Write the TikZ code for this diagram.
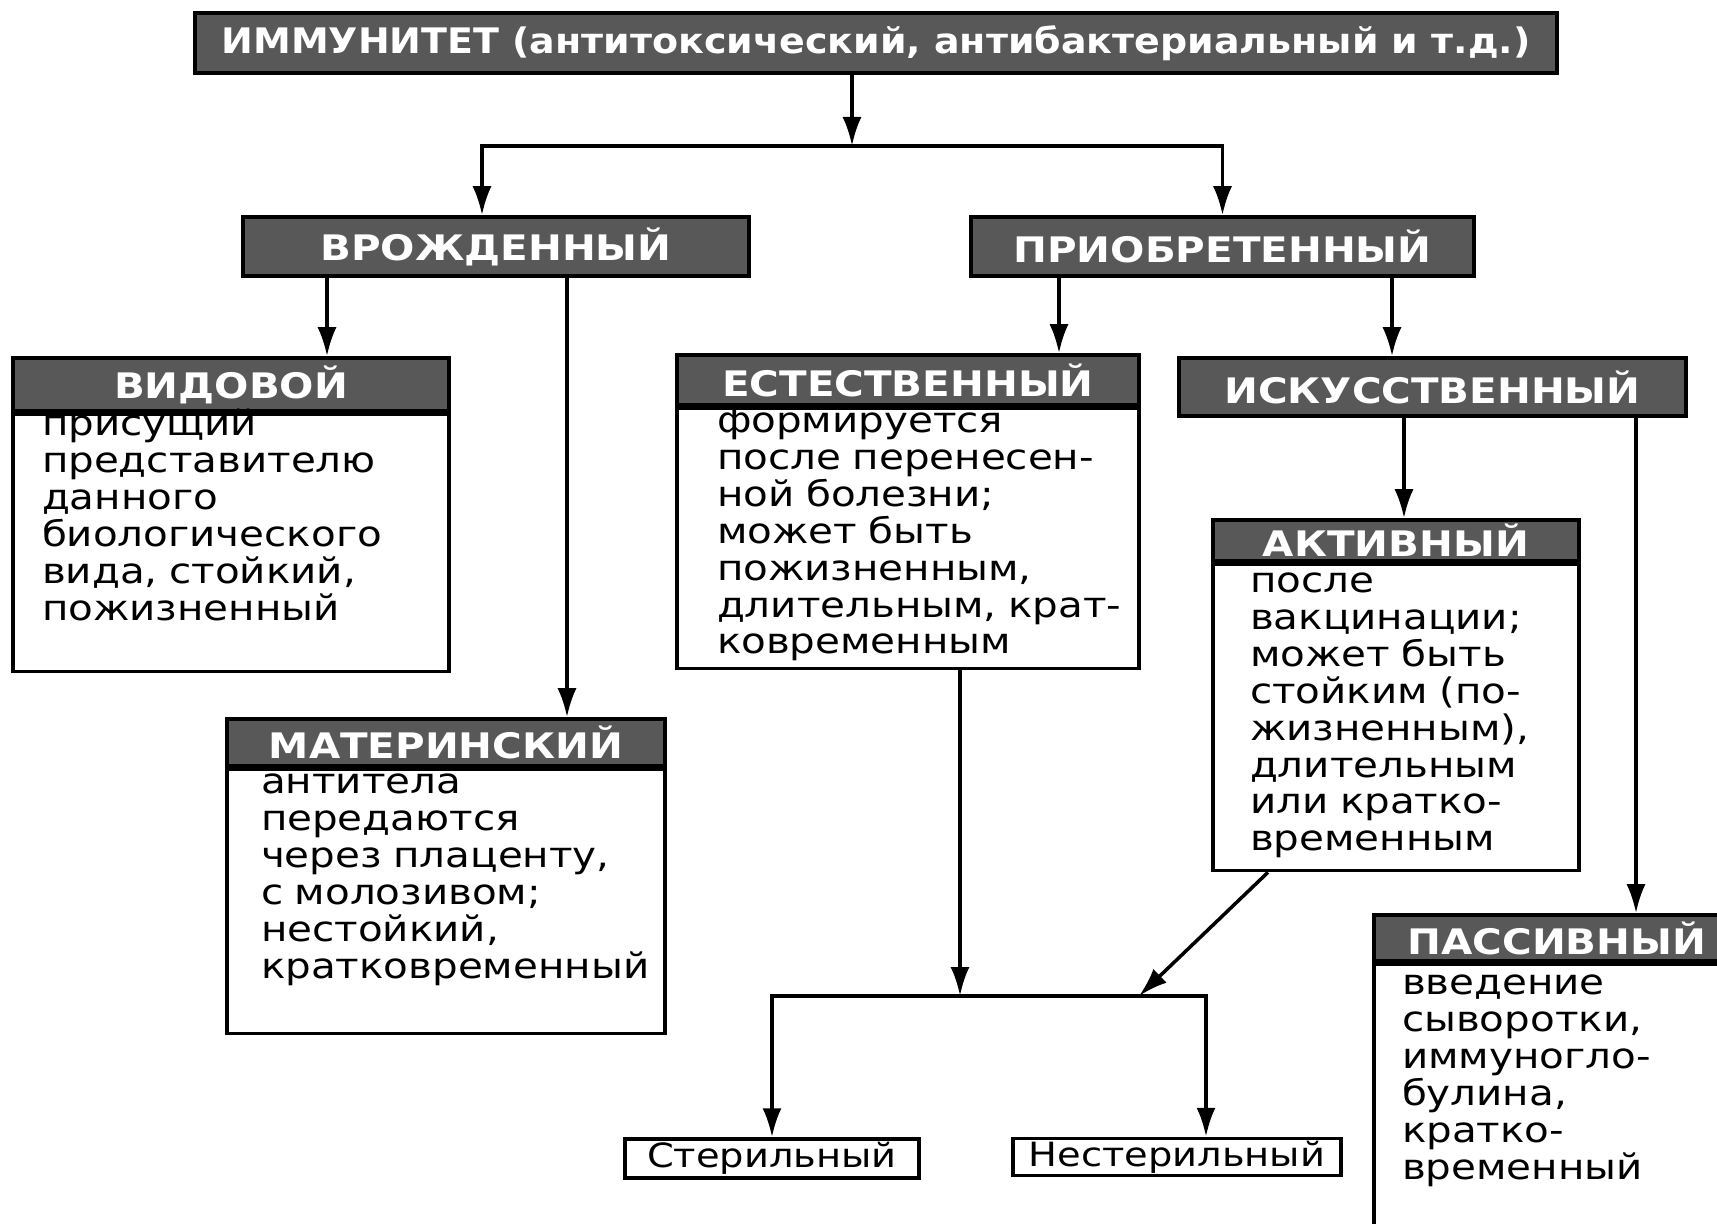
\documentclass[tikz,border=0pt]{standalone}
\usepackage{fontspec}
\setmainfont{DejaVu Sans}
\newfontfamily\widefont{DejaVu Sans}[FakeStretch=1.15]
\newfontfamily\titlefont{DejaVu Sans}[FakeStretch=1.08]
\usetikzlibrary{positioning}
\usetikzlibrary{arrows.meta}

\definecolor{headgray}{RGB}{88,88,88}

\tikzset{
  arr/.style={-{Latex[length=2.9mm,width=1.9mm]},line width=1pt},
  topbox/.style={draw,line width=1pt,fill=headgray,text=white,inner sep=0pt,font=\titlefont\bfseries\fontsize{10}{12}\selectfont},
  headbox/.style={draw,line width=1pt,fill=headgray,text=white,inner sep=0pt,font=\widefont\bfseries\fontsize{10}{12}\selectfont},
  bodybox/.style={draw,line width=1pt,align=left,inner ysep=0pt,font=\widefont\fontsize{10}{10.5}\selectfont},
  resbox/.style={draw,line width=1pt,inner sep=0pt,font=\widefont\fontsize{9.5}{11}\selectfont}
}

\begin{document}
\begin{tikzpicture}
        \useasboundingbox (0,0) rectangle (17.17,-12.24);
        \clip (0,0) rectangle (17.17,-12.24);

        % Top levels
        \node[topbox,minimum width=13.62cm,minimum height=0.60cm] (immun) at (8.76,-0.43) {ИММУНИТЕТ (антитоксический, антибактериальный и т.д.)};
        \node[headbox,minimum width=5.06cm,minimum height=0.59cm] (vrozh) at (4.96,-2.465) {ВРОЖДЕННЫЙ};
        \node[headbox,minimum width=5.03cm,minimum height=0.59cm] (priob) at (12.225,-2.465) {ПРИОБРЕТЕННЫЙ};

        % Innate
        \node[headbox,minimum width=4.36cm,minimum height=0.53cm] (vidhead) at (2.31,-3.845) {ВИДОВОЙ};
        \node[bodybox,below=0pt of vidhead,inner xsep=0.29cm,text width=3.78cm,text height=0.21cm,text depth=2.36cm] (vidbody) {присущий\\представителю\\данного\\биологического\\вида, стойкий,\\пожизненный};

        \node[headbox,minimum width=4.38cm,minimum height=0.47cm] (mathead) at (4.46,-7.425) {МАТЕРИНСКИЙ};
        \node[bodybox,below=0pt of mathead,inner xsep=0.34cm,text width=3.70cm,text height=0.24cm,text depth=2.40cm] (matbody) {антитела\\передаются\\через плаценту,\\с молозивом;\\нестойкий,\\кратковременный};

        % Acquired
        \node[headbox,minimum width=4.62cm,minimum height=0.50cm] (esthead) at (9.08,-3.80) {ЕСТЕСТВЕННЫЙ};
        \node[bodybox,below=0pt of esthead,inner xsep=0.40cm,text width=3.82cm,text height=0.24cm,text depth=2.36cm] (estbody) {формируется\\после перенесен-\\ной болезни;\\может быть\\пожизненным,\\\mbox{длительным, крат-}\\ковременным};

        \node[headbox,minimum width=5.07cm,minimum height=0.58cm] (iskus) at (14.325,-3.87) {ИСКУССТВЕННЫЙ};

        \node[headbox,minimum width=3.66cm,minimum height=0.41cm] (akthead) at (13.96,-5.405) {АКТИВНЫЙ};
        \node[bodybox,below=0pt of akthead,inner xsep=0.37cm,text width=2.92cm,text height=0.28cm,text depth=2.78cm] (aktbody) {после\\вакцинации;\\может быть\\стойким (по-\\жизненным),\\длительным\\или кратко-\\временным};

        \node[headbox,minimum width=3.66cm,minimum height=0.46cm] (pashead) at (15.57,-9.38) {ПАССИВНЫЙ};
        \node[bodybox,below=0pt of pashead,inner xsep=0.28cm,text width=3.10cm,text height=0.30cm,text depth=3.09cm] (pasbody) {введение\\сыворотки,\\иммуногло-\\булина,\\кратко-\\временный};

        % Results
        \node[resbox,minimum width=2.94cm,minimum height=0.39cm] (steril) at (7.72,-11.585) {Стерильный};
        \node[resbox,minimum width=3.28cm,minimum height=0.37cm] (nester) at (11.77,-11.57) {Нестерильный};

        % Arrows
        \coordinate (j1) at (8.52,-1.46);
        \draw[arr] (immun.south -| j1) -- (j1);
        \draw[arr] (j1) -| ([xshift=-0.14cm]vrozh.north);
        \draw[arr] (j1) -| (priob.north);

        \coordinate (vl) at ([xshift=-1.69cm]vrozh.south);
        \coordinate (ml) at ([xshift=0.71cm]vrozh.south);
        \draw[arr] (vl) -- (vl |- vidhead.north);
        \draw[arr] (ml) -- (ml |- mathead.north);

        \coordinate (el) at ([xshift=-1.635cm]priob.south);
        \coordinate (il) at ([xshift=1.695cm]priob.south);
        \draw[arr] (el) -- (el |- esthead.north);
        \draw[arr] (il) -- (il |- iskus.north);

        \coordinate (al) at ([xshift=-0.285cm]iskus.south);
        \coordinate (pl) at ([xshift=2.035cm]iskus.south);
        \draw[arr] (al) -- (al |- akthead.north);
        \draw[arr] (pl) -- (pl |- pashead.north);

        \coordinate (j2) at (9.60,-9.96);
        \coordinate (j3) at (11.39,-9.96);
        \draw[arr] (estbody.south -| j2) -- (j2);
        \draw[arr] ([xshift=-1.28cm]aktbody.south) -- (j3);
        \draw[arr] (j2) -| (steril.north);
        \draw[arr] (j2) -| ([xshift=0.29cm]nester.north);
\end{tikzpicture}
\end{document}
